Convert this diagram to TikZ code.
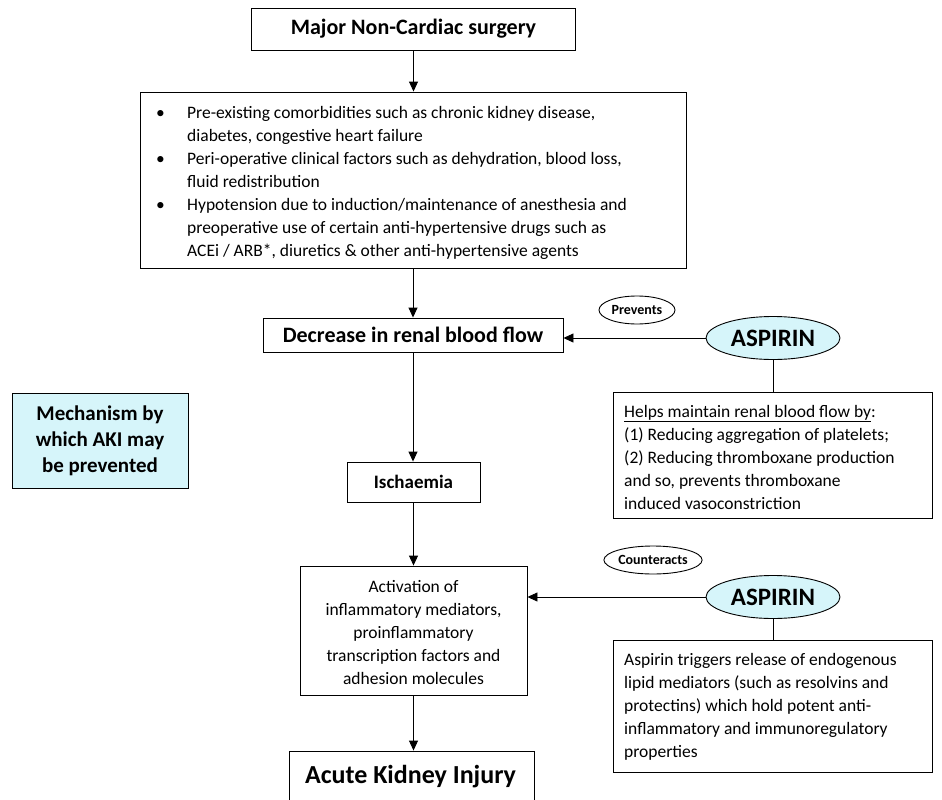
\documentclass[tikz,border=0pt]{standalone}
\usepackage{fontspec}
\setmainfont{Carlito}
\usetikzlibrary{arrows.meta,shapes.geometric}
\definecolor{lcyan}{RGB}{214,245,250}
\begin{document}
\begin{tikzpicture}[x=1pt,y=-1pt,
  box/.style={draw=black,line width=0.9pt,inner sep=0pt,anchor=center,align=center},
  oval/.style={draw=black,line width=0.9pt,ellipse,inner sep=0pt,anchor=center},
  arr/.style={-{Triangle[length=10pt,width=9pt]},line width=0.9pt},
  ln/.style={line width=0.9pt},
  body/.style={font=\fontsize{17.5}{23}\selectfont},
  txt/.style={inner sep=0pt,anchor=center}]
\useasboundingbox (0,0) rectangle (942,800);
\fill[white] (0,0) rectangle (942,800);

% main column
\node[box,minimum width=324pt,minimum height=42pt,font=\bfseries\fontsize{22}{26}\selectfont] (top) at (413.5,29) {Major Non-Cardiac surgery};

\node[box,minimum width=546pt,minimum height=176pt] (fac) at (413,180) {};
\node[txt,anchor=west,body,align=left] (factxt) at (156,183) {%
\begin{tabular}{@{}p{31pt}@{}l@{}}
\textbullet & Pre-existing comorbidities such as chronic kidney disease,\\
 & diabetes, congestive heart failure\\
\textbullet & Peri-operative clinical factors such as dehydration, blood loss,\\
 & fluid redistribution\\
\textbullet & Hypotension due to induction/maintenance of anesthesia and\\
 & preoperative use of certain anti-hypertensive drugs such as\\
 & ACEi / ARB*, diuretics \& other anti-hypertensive agents
\end{tabular}};

\node[box,minimum width=300pt,minimum height=34pt,font=\bfseries\fontsize{22}{26}\selectfont] (dec) at (413,335) {Decrease in renal blood flow};

\node[box,minimum width=133pt,minimum height=40pt,font=\bfseries\fontsize{19}{23}\selectfont] (isch) at (413.5,482) {Ischaemia};

\node[box,minimum width=227pt,minimum height=129pt] (act) at (413.5,630.5) {};
\node[txt,body,align=center] (acttxt) at (413.5,633) {Activation of\\inflammatory mediators,\\proinflammatory\\transcription factors and\\adhesion molecules};

\node[box,minimum width=245pt,minimum height=60pt] (aki) at (412,781) {};
\node[txt,font=\bfseries\fontsize{26}{30}\selectfont] (akitxt) at (410.5,777) {Acute Kidney Injury};

% legend
\node[box,fill=lcyan,minimum width=176pt,minimum height=95pt,font=\bfseries\fontsize{21}{26}\selectfont] (mech) at (100,440.5) {Mechanism by\\which AKI may\\be prevented};

% aspirin 1
\node[oval,fill=lcyan,minimum width=134pt,minimum height=43pt,font=\bfseries\fontsize{25}{28}\selectfont] (asp1) at (773,338) {ASPIRIN};
\node[oval,minimum width=76pt,minimum height=28pt,font=\bfseries\fontsize{14}{16}\selectfont] (prev) at (637,310) {Prevents};
\node[box,minimum width=319pt,minimum height=126pt] (helps) at (772.5,455) {};
\node[txt,body,align=left,anchor=west] (helpstxt) at (624,457) {\underline{Helps maintain renal blood flow by}:\\(1) Reducing aggregation of platelets;\\(2) Reducing thromboxane production\\and so, prevents thromboxane\\induced vasoconstriction};

% aspirin 2
\node[oval,fill=lcyan,minimum width=134pt,minimum height=43pt,font=\bfseries\fontsize{25}{28}\selectfont] (asp2) at (773,597) {ASPIRIN};
\node[oval,minimum width=86pt,minimum height=28pt,font=\bfseries\fontsize{14}{16}\selectfont] (cnt) at (653,560) {Counteracts};
\node[box,minimum width=319pt,minimum height=132pt] (trig) at (772.5,706) {};
\node[txt,body,align=left,anchor=west] (trigtxt) at (624,707) {Aspirin triggers release of endogenous\\lipid mediators (such as resolvins and\\protectins) which hold potent anti-\\inflammatory and immunoregulatory\\properties};

% connectors
\draw[arr] (top.south) -- (top.south |- fac.north);
\draw[arr] (fac.south) -- (fac.south |- dec.north);
\draw[arr] (dec.south) -- (dec.south |- isch.north);
\draw[arr] (isch.south) -- (isch.south |- act.north);
\draw[arr] (act.south) -- (act.south |- aki.north);
\draw[arr] (asp1.west) -- (asp1.west -| dec.east);
\draw[arr] (asp2.west) -- (asp2.west -| act.east);
\draw[ln] (asp1.south) -- (asp1.south |- helps.north);
\draw[ln] (asp2.south) -- (asp2.south |- trig.north);
\end{tikzpicture}
\end{document}
